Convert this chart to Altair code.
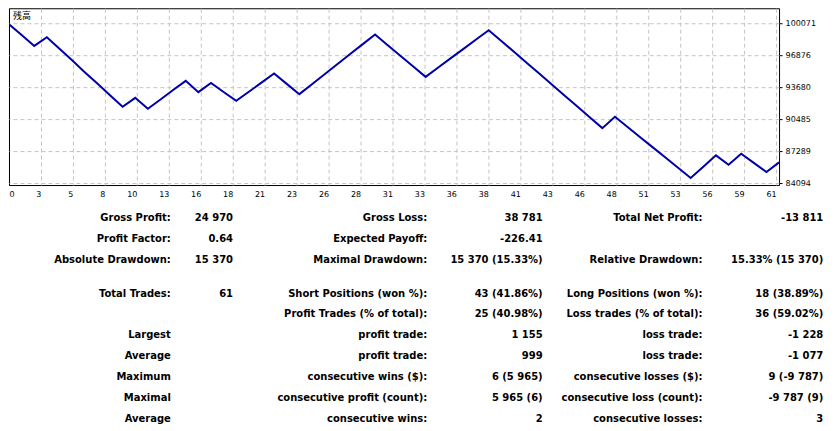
import json
import altair as alt
import pandas as pd

# ---------------- data ----------------
trade_no = list(range(62))
balance = [
    100000, 98920, 97834, 98700, 97540, 96390, 95210, 94080, 92900, 91743,
    92641, 91543, 92480, 93420, 94339, 93211, 94139, 93230, 92342, 93250,
    94160, 95078, 94040, 93011, 94010, 95000, 96000, 97000, 97990, 98976,
    97900, 96850, 95800, 94739, 95680, 96610, 97540, 98470, 99402, 98330,
    97250, 96160, 95070, 93980, 92880, 91790, 90700, 89615, 90744, 89720,
    88700, 87690, 86670, 85650, 84630, 85760, 86890, 85950, 87049, 86140,
    85222, 86189,
]
x_labels = ["0", "3", "5", "8", "10", "13", "16", "18", "21", "23", "26", "28",
            "31", "33", "36", "38", "41", "43", "46", "48", "51", "53", "56",
            "59", "61"]
y_ticks = [84094, 87289, 90485, 93680, 96876, 100071]
chart_label = "残高"

stat_rows = [
    ["Gross Profit:", "24 970", "Gross Loss:", "38 781", "Total Net Profit:", "-13 811"],
    ["Profit Factor:", "0.64", "Expected Payoff:", "-226.41", "", ""],
    ["Absolute Drawdown:", "15 370", "Maximal Drawdown:", "15 370 (15.33%)", "Relative Drawdown:", "15.33% (15 370)"],
    ["Total Trades:", "61", "Short Positions (won %):", "43 (41.86%)", "Long Positions (won %):", "18 (38.89%)"],
    ["", "", "Profit Trades (% of total):", "25 (40.98%)", "Loss trades (% of total):", "36 (59.02%)"],
    ["Largest", "", "profit trade:", "1 155", "loss trade:", "-1 228"],
    ["Average", "", "profit trade:", "999", "loss trade:", "-1 077"],
    ["Maximum", "", "consecutive wins ($):", "6 (5 965)", "consecutive losses ($):", "9 (-9 787)"],
    ["Maximal", "", "consecutive profit (count):", "5 965 (6)", "consecutive loss (count):", "-9 787 (9)"],
    ["Average", "", "consecutive wins:", "2", "consecutive losses:", "3"],
]

# ---------------- layout (pixels) ----------------
PLOT_W, PLOT_H = 771, 177
col_px = [162, 224.3, 418.7, 534.3, 694.3, 815.3]
row_px = [210, 231, 252, 286, 306.5, 327.5, 348, 369, 390, 411]

line_df = pd.DataFrame({"trade": trade_no, "balance": balance})
n_last = trade_no[-1]
step = 32 / PLOT_W * n_last
tick_vals = [i * step for i in range(len(x_labels))]
label_expr = json.dumps(x_labels) + f"[round(datum.index*{len(x_labels) - 1})]"

recs = []
for r, row in enumerate(stat_rows):
    for c, txt in enumerate(row):
        if txt:
            recs.append({"row": r, "col": c, "txt": txt})
stat_df = pd.DataFrame(recs)

FONT = "DejaVu Sans"
GRID = "#c4c4c4"

line = alt.Chart(line_df).mark_line(color="#0000a8", strokeWidth=2, clip=True).encode(
    x=alt.X("trade:Q",
            scale=alt.Scale(domain=[0, n_last], nice=False, zero=False),
            axis=alt.Axis(values=tick_vals, labelExpr=label_expr, title=None,
                          grid=True,
                          gridColor={"condition": {"test": "datum.value == 0",
                                                   "value": "black"},
                                     "value": GRID},
                          gridDash={"condition": {"test": "datum.value == 0",
                                                  "value": []},
                                    "value": [4, 3]},
                          domain=False, ticks=False, labelFont=FONT,
                          labelFontSize=8, labelColor="black",
                          labelAlign={"condition": {"test": "datum.index == 0",
                                                    "value": "left"},
                                      "value": "right"},
                          labelPadding=5)),
    y=alt.Y("balance:Q",
            scale=alt.Scale(domain=[83924, 101599], nice=False, zero=False),
            axis=alt.Axis(orient="right", values=y_ticks, title=None,
                          grid=True, gridColor=GRID, gridDash=[4, 3],
                          domain=False, ticks=True, tickSize=3,
                          tickColor="black", labelFont=FONT, labelFontSize=8,
                          labelColor="black", labelPadding=3, format="d")),
)

lbl = alt.Chart(pd.DataFrame({"t": [chart_label]})).mark_text(
    align="left", baseline="middle", font="Noto Sans CJK JP", fontSize=9,
    color="black"
).encode(x=alt.value(4), y=alt.value(8), text="t:N")

table = alt.Chart(stat_df).mark_text(
    align="right", baseline="middle", font=FONT, fontSize=10,
    fontWeight="bold", color="black"
).encode(
    x=alt.X("col:Q", scale=alt.Scale(domain=list(range(6)), range=col_px,
                                      nice=False, zero=False), axis=None),
    y=alt.Y("row:Q", scale=alt.Scale(domain=list(range(10)), range=row_px,
                                      nice=False, zero=False), axis=None),
    text="txt:N",
)

chart = alt.layer(line, lbl, table).resolve_scale(
    x="independent", y="independent"
).properties(
    width=PLOT_W, height=PLOT_H,
    padding={"left": 1, "top": 0, "right": 5, "bottom": 5},
    background="white",
).configure_view(stroke="black", strokeWidth=1)

chart.save("out.html", embed_options={"renderer": "svg", "actions": False})
